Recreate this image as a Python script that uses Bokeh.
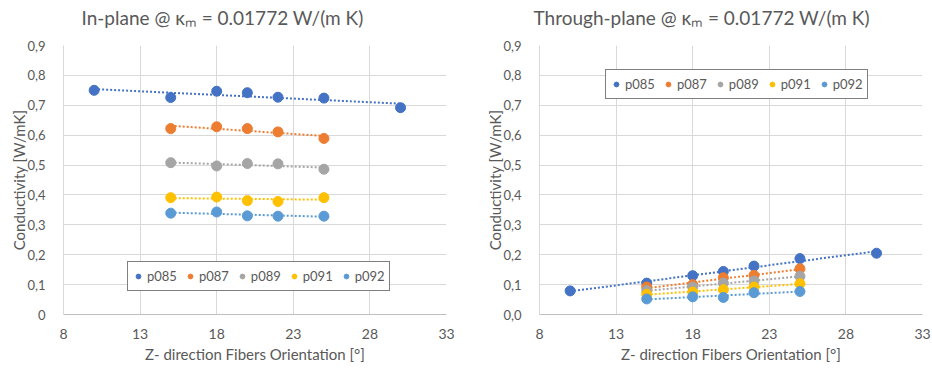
import numpy as np
from bokeh.plotting import figure
from bokeh.layouts import row
from bokeh.models import FixedTicker, Legend, LegendItem, Title
from bokeh.embed import file_html
from bokeh.resources import INLINE

series_names = ["p085", "p087", "p089", "p091", "p092"]
colors = ["#4472C4", "#ED7D31", "#A5A5A5", "#FFC000", "#5B9BD5"]

x_p085 = [10, 15, 18, 20, 22, 25, 30]
x_other = [15, 18, 20, 22, 25]

inplane_p085 = [0.750, 0.726, 0.747, 0.742, 0.727, 0.724, 0.692]
inplane_p087 = [0.622, 0.628, 0.622, 0.611, 0.589]
inplane_p089 = [0.508, 0.497, 0.505, 0.504, 0.486]
inplane_p091 = [0.391, 0.393, 0.381, 0.378, 0.391]
inplane_p092 = [0.339, 0.343, 0.330, 0.329, 0.329]

through_p085 = [0.079, 0.105, 0.130, 0.144, 0.162, 0.187, 0.205]
through_p087 = [0.092, 0.100, 0.123, 0.131, 0.153]
through_p089 = [0.080, 0.092, 0.105, 0.112, 0.128]
through_p091 = [0.068, 0.075, 0.083, 0.092, 0.103]
through_p092 = [0.052, 0.059, 0.057, 0.073, 0.077]

x_ticks = [8, 13, 18, 23, 28, 33]
y_ticks = [0, 0.1, 0.2, 0.3, 0.4, 0.5, 0.6, 0.7, 0.8, 0.9]
y_labels_left = ["0", "0,1", "0,2", "0,3", "0,4", "0,5", "0,6", "0,7", "0,8", "0,9"]
y_labels_right = ["0,0", "0,1", "0,2", "0,3", "0,4", "0,5", "0,6", "0,7", "0,8", "0,9"]

title_left = "In-plane @ \u03baₘ = 0.01772 W/(m K)"
title_right = "Through-plane @ \u03baₘ = 0.01772 W/(m K)"
x_label = "Z- direction Fibers Orientation [°]"
y_label = "Conductivity [W/mK]"

FONT = "Lato"
TEXT = "#595959"
GRID = "#D9D9D9"


def make_panel(title, ys, y_labels, mb_left, mb_right, title_offset, legend_loc):
    p = figure(width=466, height=369, x_range=(8, 33), y_range=(0, 0.9),
               output_backend="svg", toolbar_location=None, title_location=None,
               min_border_left=mb_left, min_border_right=mb_right,
               min_border_top=45, min_border_bottom=55)
    p.outline_line_color = None
    p.background_fill_color = "white"
    p.border_fill_color = "white"

    # spacer between the chart title and the plot area
    p.add_layout(Title(text=" ", text_font=FONT, text_font_size="12px",
                       standoff=0), "above")
    p.add_layout(Title(text=title, align="left", offset=title_offset,
                       text_font=FONT, text_font_size="19px",
                       text_font_style="normal", text_color=TEXT, standoff=0),
                 "above")

    p.xaxis.ticker = FixedTicker(ticks=x_ticks)
    p.yaxis.ticker = FixedTicker(ticks=y_ticks)
    p.yaxis.major_label_overrides = dict(zip(y_ticks, y_labels))
    for ax in (p.xaxis[0], p.yaxis[0]):
        ax.major_tick_line_color = None
        ax.minor_tick_line_color = None
        ax.major_label_text_font = FONT
        ax.major_label_text_color = TEXT
        ax.axis_label_text_font = FONT
        ax.axis_label_text_font_size = "15px"
        ax.axis_label_text_font_style = "normal"
        ax.axis_label_text_color = TEXT
    p.xaxis.major_label_text_font_size = "14px"
    p.yaxis.major_label_text_font_size = "13px"
    p.xaxis.axis_label = x_label
    p.yaxis.axis_label = y_label
    p.xaxis.axis_line_color = "#BFBFBF"
    p.yaxis.axis_line_color = GRID
    p.xaxis.major_label_standoff = 8
    p.yaxis.major_label_standoff = 12
    p.xaxis.axis_label_standoff = 3
    p.yaxis.axis_label_standoff = -4

    p.xgrid.ticker = FixedTicker(ticks=x_ticks)
    p.ygrid.ticker = FixedTicker(ticks=y_ticks)
    p.xgrid.grid_line_color = GRID
    p.ygrid.grid_line_color = GRID

    xs_list = [x_p085] + [x_other] * 4
    # trendlines (least squares fit of each series)
    for xs, yv, c in zip(xs_list, ys, colors):
        k, b = np.polyfit(xs, yv, 1)
        xe = [min(xs), max(xs)]
        p.line(xe, [k * xe[0] + b, k * xe[1] + b], line_color=c, line_width=2,
               line_dash="2 2")
    items = []
    for name, xs, yv, c in zip(series_names, xs_list, ys, colors):
        r = p.scatter(xs, yv, size=10, fill_color=c, line_color=c)
        items.append(LegendItem(label=name, renderers=[r]))
    leg = Legend(items=items, orientation="horizontal", location=legend_loc,
                 border_line_color="black", border_line_width=1.5,
                 background_fill_color="white", background_fill_alpha=1,
                 label_text_font=FONT, label_text_font_size="13px",
                 label_text_color=TEXT, glyph_width=12, glyph_height=20,
                 label_standoff=3, spacing=7, padding=4, margin=0)
    p.add_layout(leg, "center")
    return p


left = make_panel(title_left,
                  [inplane_p085, inplane_p087, inplane_p089, inplane_p091, inplane_p092],
                  y_labels_left, 63, 20, 18, (64, 23))
right = make_panel(title_right,
                   [through_p085, through_p087, through_p089, through_p091, through_p092],
                   y_labels_right, 73, 10, -6, (66, 215))

layout = row(left, right)
open("out.html", "w").write(file_html(layout, INLINE))
